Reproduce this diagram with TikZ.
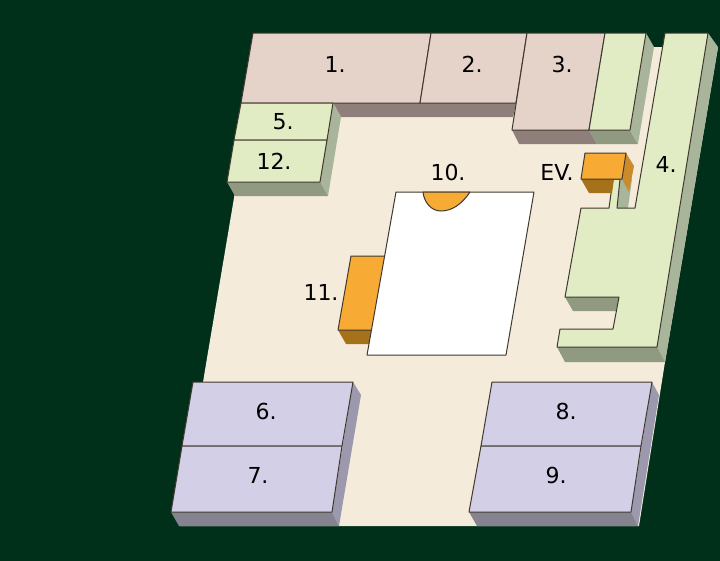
\documentclass[tikz,border=0pt]{standalone}
\usepackage{fontspec}
\setmainfont{DejaVu Sans}
\definecolor{bgc}{HTML}{00301A}
\definecolor{floorc}{HTML}{F5EBDB}
\definecolor{brownc}{HTML}{E5D2C8}
\definecolor{brownd}{HTML}{8F7F7B}
\definecolor{greenc}{HTML}{E1ECC4}
\definecolor{greens}{HTML}{A8B59B}
\definecolor{greend}{HTML}{8F9A80}
\definecolor{lavc}{HTML}{D2CFE6}
\definecolor{lavs}{HTML}{9C99AF}
\definecolor{lavd}{HTML}{85838F}
\definecolor{orangec}{HTML}{F7AB35}
\definecolor{oranges}{HTML}{C98B2C}
\definecolor{oranged}{HTML}{A67219}
\definecolor{linec}{HTML}{40382F}
\tikzset{
  topface/.style={draw=linec,line width=1pt,line join=round},
  lbl/.style={font=\fontsize{22}{24}\selectfont,text=black,inner sep=0pt}
}
\begin{document}
\begin{tikzpicture}[x=1pt,y=-1pt]
\useasboundingbox (0,0) rectangle (720,560);
\fill[bgc] (-5,-5) rectangle (725,565);
% floor
\fill[floorc] (250,103)--(260,47)--(718,47)--(665,362)--(639,526)--(180,526)--(205,370)--cycle;
% block 1-3 shades
\fill[brownd] (333,103)--(341,117)--(513,117)--(516,103)--cycle;
\fill[brownd] (512,130)--(519,144)--(597,144)--(589,130)--cycle;
\fill[greend] (589,130)--(597,144)--(638,144)--(630,130)--cycle;
\fill[greens] (646,33)--(654,47)--(638,144)--(630,130)--cycle;
% blocks 1,2,3
\filldraw[topface,fill=brownc] (253,33)--(431,33)--(420,103)--(241,103)--cycle;
\filldraw[topface,fill=brownc] (431,33)--(527,33)--(516,103)--(420,103)--cycle;
\filldraw[topface,fill=brownc] (527,33)--(605,33)--(589,130)--(512,130)--cycle;
\filldraw[topface,fill=greenc] (605,33)--(646,33)--(630,130)--(589,130)--cycle;
% blocks 5, 12
\fill[greens] (333,103)--(341,117)--(328,196)--(320,182)--cycle;
\fill[greend] (227,182)--(320,182)--(328,196)--(235,196)--cycle;
\filldraw[topface,fill=greenc] (241,103)--(333,103)--(327,140)--(234,140)--cycle;
\filldraw[topface,fill=greenc] (234,140)--(327,140)--(320,182)--(227,182)--cycle;
% block 4
\fill[greens] (708,33)--(718,47)--(665,362)--(657,347)--cycle;
\fill[greend] (557,347)--(657,347)--(665,362)--(565,362)--cycle;
\fill[greend] (565,297)--(619,297)--(616,311)--(573,311)--cycle;
\fill[greens] (620,179)--(617,208)--(628,208)--(632,179)--cycle;
\filldraw[topface,fill=greenc] (665,33)--(708,33)--(657,347)--(557,347)--(560,329)--(613,329)--(619,297)--(565,297)--(581,208)--(609,208)--(613,179)--(620,179)--(617,208)--(635,208)--cycle;
% lift
\fill[oranges] (626,153)--(634,166)--(629,192)--(622,179)--cycle;
\fill[oranged] (581,179)--(589,193)--(612,193)--(614,179)--cycle;
\filldraw[topface,fill=orangec] (585,153)--(626,153)--(622,179)--(581,179)--cycle;
% block 11
\fill[oranged] (338,330)--(346,344)--(372,344)--(375,330)--cycle;
\filldraw[topface,fill=orangec] (351,256)--(388,256)--(376,330)--(338,330)--cycle;
% hall
\filldraw[topface,fill=white] (396,192)--(534,192)--(506,355)--(367,355)--cycle;
\filldraw[topface,fill=orangec] (423,192)--(470,192) .. controls (462,204) and (452,211) .. (441,211) .. controls (431,211) and (424,202) .. (423,192)--cycle;
% blocks 6,7
\fill[lavs] (353,382)--(361,395)--(339,526)--(332,512)--cycle;
\fill[lavd] (171,512)--(332,512)--(339,526)--(179,526)--cycle;
\filldraw[topface,fill=lavc] (193,382)--(353,382)--(342,446)--(182,446)--cycle;
\filldraw[topface,fill=lavc] (182,446)--(342,446)--(332,512)--(171,512)--cycle;
% blocks 8,9
\fill[lavs] (652,382)--(659,395)--(638,526)--(631,512)--cycle;
\fill[lavd] (469,512)--(631,512)--(638,526)--(477,526)--cycle;
\filldraw[topface,fill=lavc] (492,382)--(652,382)--(641,446)--(481,446)--cycle;
\filldraw[topface,fill=lavc] (481,446)--(641,446)--(631,512)--(469,512)--cycle;
% labels
\node[lbl] (l1) at (335,64) {1.};
\node[lbl] (l2) at (472,64) {2.};
\node[lbl] (l3) at (562,64) {3.};
\node[lbl] (l4) at (666,164) {4.};
\node[lbl] (l5) at (283,122) {5.};
\node[lbl] (l12) at (274,161) {12.};
\node[lbl] (l10) at (448,172) {10.};
\node[lbl] (lev) at (557,172) {EV.};
\node[lbl] (l11) at (321,292) {11.};
\node[lbl] (l6) at (266,411) {6.};
\node[lbl] (l7) at (258,475) {7.};
\node[lbl] (l8) at (566,411) {8.};
\node[lbl] (l9) at (556,475) {9.};
\end{tikzpicture}
\end{document}
